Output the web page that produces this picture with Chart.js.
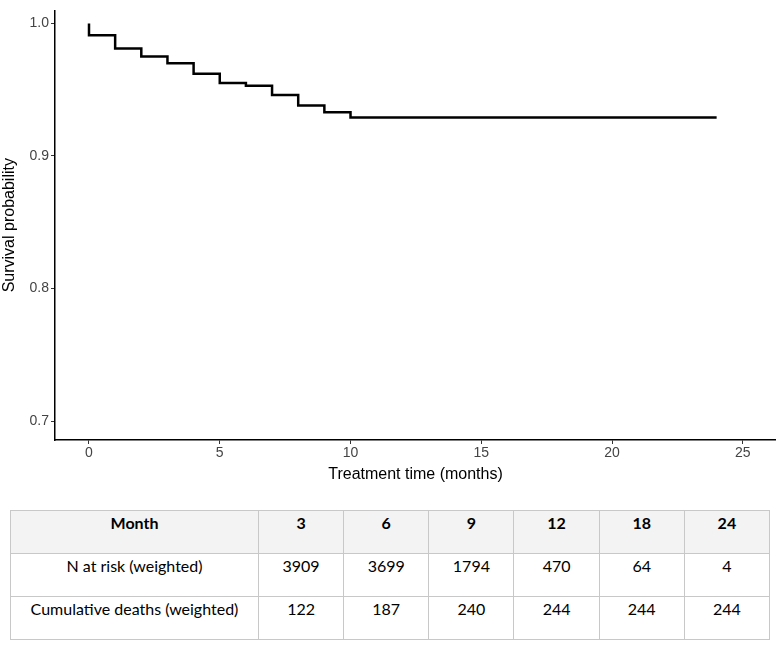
<!DOCTYPE html>
<html>
<head>
<meta charset="utf-8">
<script src="https://cdn.jsdelivr.net/npm/chart.js@4"></script>
<style>
  body { margin: 0; background: #fff; }
  #wrap { position: relative; width: 776px; height: 645px; }
  #plot { position: absolute; left: 0; top: 0; width: 776px; height: 484px; }
  table {
    position: absolute; left: 10px; top: 510px; width: 760px;
    border-collapse: collapse; table-layout: fixed;
    font-family: Lato, "Open Sans", sans-serif; font-size: 16px; color: #000;
  }
  td, th {
    border: 1px solid #c8c8c8; height: 43px; padding: 2px 0 0 0;
    vertical-align: top; text-align: center; box-sizing: border-box;
  }
  th { background: #f3f3f3; font-weight: bold; }
  col.first { width: 248px; }
</style>
</head>
<body>
<div id="wrap">
  <div id="plot"><canvas id="km"></canvas></div>
  <table id="risk"></table>
</div>
<script>
// Kaplan-Meier step curve
const times = [0, 0, 1, 2, 3, 4, 5, 6, 7, 8, 9, 10, 24];
const survival = [1.0, 0.991, 0.981, 0.975, 0.970, 0.962, 0.955, 0.953, 0.946, 0.938, 0.933, 0.929, 0.929];

const xTicks = [0, 5, 10, 15, 20, 25];
const yTicks = [0.7, 0.8, 0.9, 1.0];

// risk table
const months = [3, 6, 9, 12, 18, 24];
const atRisk = [3909, 3699, 1794, 470, 64, 4];
const cumDeaths = [122, 187, 240, 244, 244, 244];

function buildTable() {
  const t = document.getElementById('risk');
  let html = '<colgroup><col class="first">' + months.map(() => '<col>').join('') + '</colgroup>';
  html += '<tr><th>Month</th>' + months.map(m => `<th>${m}</th>`).join('') + '</tr>';
  html += '<tr><td>N at risk (weighted)</td>' + atRisk.map(v => `<td>${v}</td>`).join('') + '</tr>';
  html += '<tr><td>Cumulative deaths (weighted)</td>' + cumDeaths.map(v => `<td>${v}</td>`).join('') + '</tr>';
  t.innerHTML = html;
}
buildTable();

const axisFont = { family: '"Liberation Sans", Arial, sans-serif', size: 14 };
const titleFont = { family: '"Liberation Sans", Arial, sans-serif', size: 16 };

new Chart(document.getElementById('km'), {
  type: 'line',
  data: {
    datasets: [{
      data: times.map((t, i) => ({ x: t, y: survival[i] })),
      borderColor: '#000',
      borderWidth: 2.5,
      pointRadius: 0,
      stepped: 'before',
      fill: false
    }]
  },
  options: {
    responsive: true,
    maintainAspectRatio: false,
    animation: false,
    layout: { padding: 0 },
    plugins: { legend: { display: false }, tooltip: { enabled: false } },
    scales: {
      x: {
        type: 'linear',
        min: -1.3,
        max: 26.27,
        afterBuildTicks: s => { s.ticks = xTicks.map(v => ({ value: v })); },
        afterFit: s => { s.height = 44; },
        grid: { drawOnChartArea: false, drawTicks: true, tickLength: 4, color: '#333', lineWidth: 1 },
        border: { display: true, color: '#000', width: 1.5 },
        ticks: { font: axisFont, color: '#444', padding: 1, maxRotation: 0 },
        title: { display: true, text: 'Treatment time (months)', font: titleFont, color: '#000', padding: { top: 0, bottom: 0 } }
      },
      y: {
        min: 0.6857,
        max: 1.0098,
        afterBuildTicks: s => { s.ticks = yTicks.map(v => ({ value: v })); },
        afterFit: s => { s.width = 55; },
        grid: { drawOnChartArea: false, drawTicks: true, tickLength: 4, color: '#333', lineWidth: 1 },
        border: { display: true, color: '#000', width: 1.5 },
        ticks: { font: axisFont, color: '#444', padding: 2, callback: v => v.toFixed(1) },
        title: { display: true, text: 'Survival probability', font: titleFont, color: '#000', padding: { top: 0, bottom: 2 } }
      }
    }
  }
});
</script>
</body>
</html>
